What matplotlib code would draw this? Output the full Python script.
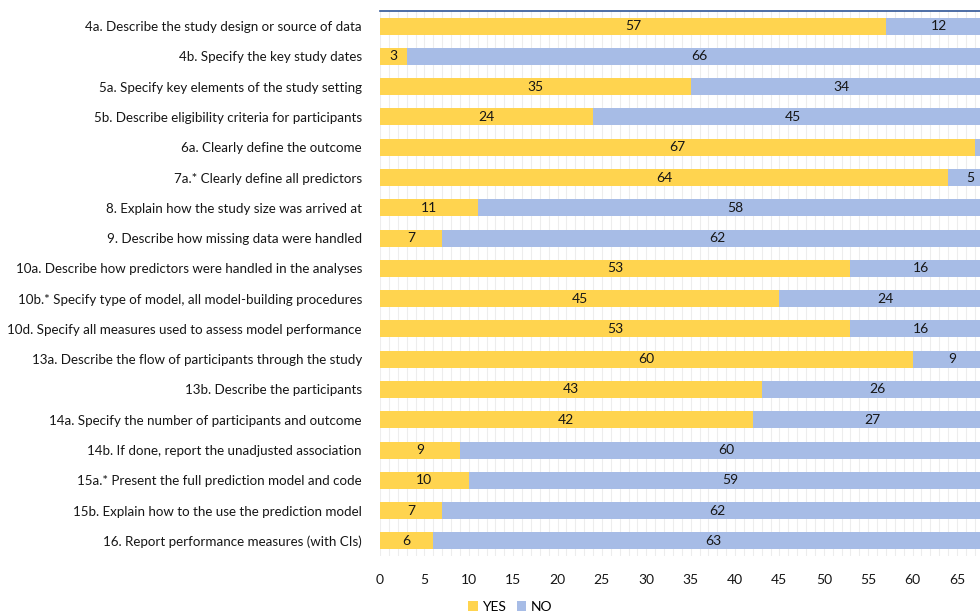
import matplotlib
matplotlib.use("Agg")
import matplotlib.pyplot as plt
from matplotlib.ticker import MultipleLocator
import numpy as np

plt.rcParams['font.family'] = ['Lato', 'DejaVu Sans']

categories = [
    "4a. Describe the study design or source of data",
    "4b. Specify the key study dates",
    "5a. Specify key elements of the study setting",
    "5b. Describe eligibility criteria for participants",
    "6a. Clearly define the outcome",
    "7a.* Clearly define all predictors",
    "8. Explain how the study size was arrived at",
    "9. Describe how missing data were handled",
    "10a. Describe how predictors were handled in the analyses",
    "10b.* Specify type of model, all model-building procedures",
    "10d. Specify all measures used to assess model performance",
    "13a. Describe the flow of participants through the study",
    "13b. Describe the participants",
    "14a. Specify the number of participants and outcome",
    "14b. If done, report the unadjusted association",
    "15a.* Present the full prediction model and code",
    "15b. Explain how to the use the prediction model",
    "16. Report performance measures (with CIs)",
]
yes_vals = [57, 3, 35, 24, 67, 64, 11, 7, 53, 45, 53, 60, 43, 42, 9, 10, 7, 6]
no_vals = [12, 66, 34, 45, 2, 5, 58, 62, 16, 24, 16, 9, 26, 27, 60, 59, 62, 63]
x_ticks = [0, 5, 10, 15, 20, 25, 30, 35, 40, 45, 50, 55, 60, 65]

YES_C = "#FFD44F"
NO_C = "#A7BCE6"
TXT = "#161616"

fig = plt.figure(figsize=(9.8, 6.15), dpi=100)
ax = fig.add_axes([380/980, 1 - 556/615, 1 - 380/980, 545/615])

y = np.arange(len(categories))
h = 0.56
ax.barh(y, yes_vals, height=h, color=YES_C, label="YES", zorder=3)
ax.barh(y, no_vals, left=yes_vals, height=h, color=NO_C, label="NO", zorder=3)

for i, (a, b) in enumerate(zip(yes_vals, no_vals)):
    ax.text(a / 2, i, str(a), ha="center", va="center", fontsize=10, color=TXT, zorder=4)
    ax.text(a + b / 2, i, str(b), ha="center", va="center", fontsize=10, color=TXT, zorder=4, clip_on=True)

ax.set_xlim(0, 67.6)
ax.set_ylim(len(categories) - 0.5, -0.5)
ax.set_yticks(y)
ax.set_yticklabels(categories, fontsize=9.6, color=TXT)
ax.set_xticks(x_ticks)
ax.set_xticklabels([str(t) for t in x_ticks], fontsize=10, color=TXT)
ax.xaxis.set_minor_locator(MultipleLocator(1))
ax.grid(axis="x", which="both", color="#EDEDED", linewidth=0.8, zorder=0)
ax.tick_params(axis="both", which="both", length=0)
ax.tick_params(axis="x", pad=13)
ax.tick_params(axis="y", pad=13)
for s in ["left", "right", "bottom"]:
    ax.spines[s].set_visible(False)
ax.spines["top"].set_color("#2F5597")
ax.spines["top"].set_linewidth(1.2)

fig.legend(loc="lower center", bbox_to_anchor=(510/980, -0.008), ncol=2, frameon=False,
           fontsize=10, handlelength=0.7, handleheight=0.7, handletextpad=0.3, columnspacing=0.8,
           borderaxespad=0.1)

fig.savefig("out.png", dpi=100)
